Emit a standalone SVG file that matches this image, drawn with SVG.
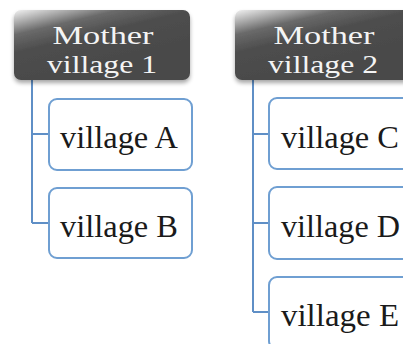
<svg xmlns="http://www.w3.org/2000/svg" width="403" height="344" viewBox="0 0 403 344">
  <defs>
    <linearGradient id="headFill" x1="0" y1="0" x2="0.45" y2="0.75">
      <stop offset="0" stop-color="#f2f2f2"/>
      <stop offset="0.35" stop-color="#6a6a6a"/>
      <stop offset="0.6" stop-color="#4e4e4e"/>
      <stop offset="1" stop-color="#4a4a4a"/>
    </linearGradient>
    <filter id="drop" x="-10%" y="-10%" width="120%" height="140%">
      <feGaussianBlur in="SourceAlpha" stdDeviation="2"/>
      <feOffset dy="3"/>
      <feComponentTransfer><feFuncA type="linear" slope="0.35"/></feComponentTransfer>
      <feMerge><feMergeNode/><feMergeNode in="SourceGraphic"/></feMerge>
    </filter>
  </defs>
  <style>
    .head { fill: url(#headFill); filter: url(#drop); }
    .headText { font-family: "Liberation Serif", "DejaVu Serif", serif; font-size: 26px; fill: #f4f4f4; text-anchor: middle; }
    .child { fill: #ffffff; stroke: #6f9fd2; stroke-width: 2; }
    .childText { font-family: "Liberation Serif", "DejaVu Serif", serif; font-size: 32px; fill: #1a1a1a; }
    .wire { fill: none; stroke: #5f8fc6; stroke-width: 2; }
  </style>
  <rect width="403" height="344" fill="#ffffff"/>

  <g id="connectors">
    <path class="wire" d="M32 80 V223 M32 134 H49 M32 223 H49"/>
    <path class="wire" d="M253 80 V312 M253 134 H269 M253 223 H269 M253 312 H269"/>
  </g>

  <g id="mother1">
    <rect class="head" x="14" y="10" width="176" height="70" rx="7"/>
    <text class="headText" x="103" y="44" textLength="101" lengthAdjust="spacingAndGlyphs">Mother</text>
    <text class="headText" x="102" y="73" textLength="110" lengthAdjust="spacingAndGlyphs">village 1</text>
  </g>
  <g id="mother2">
    <rect class="head" x="235" y="10" width="176" height="70" rx="7"/>
    <text class="headText" x="324" y="44" textLength="101" lengthAdjust="spacingAndGlyphs">Mother</text>
    <text class="headText" x="323" y="73" textLength="110" lengthAdjust="spacingAndGlyphs">village 2</text>
  </g>

  <g id="villageA">
    <rect class="child" x="49" y="99" width="143" height="71" rx="8"/>
    <text class="childText" x="60" y="148" textLength="118" lengthAdjust="spacingAndGlyphs">village A</text>
  </g>
  <g id="villageB">
    <rect class="child" x="49" y="188" width="143" height="70" rx="8"/>
    <text class="childText" x="60" y="237" textLength="118" lengthAdjust="spacingAndGlyphs">village B</text>
  </g>
  <g id="villageC">
    <rect class="child" x="269" y="98" width="143" height="71" rx="8"/>
    <text class="childText" x="281" y="148" textLength="118" lengthAdjust="spacingAndGlyphs">village C</text>
  </g>
  <g id="villageD">
    <rect class="child" x="269" y="187" width="143" height="72" rx="8"/>
    <text class="childText" x="281" y="237" textLength="119" lengthAdjust="spacingAndGlyphs">village D</text>
  </g>
  <g id="villageE">
    <rect class="child" x="269" y="277" width="143" height="72" rx="8"/>
    <text class="childText" x="281" y="326" textLength="118" lengthAdjust="spacingAndGlyphs">village E</text>
  </g>
</svg>
